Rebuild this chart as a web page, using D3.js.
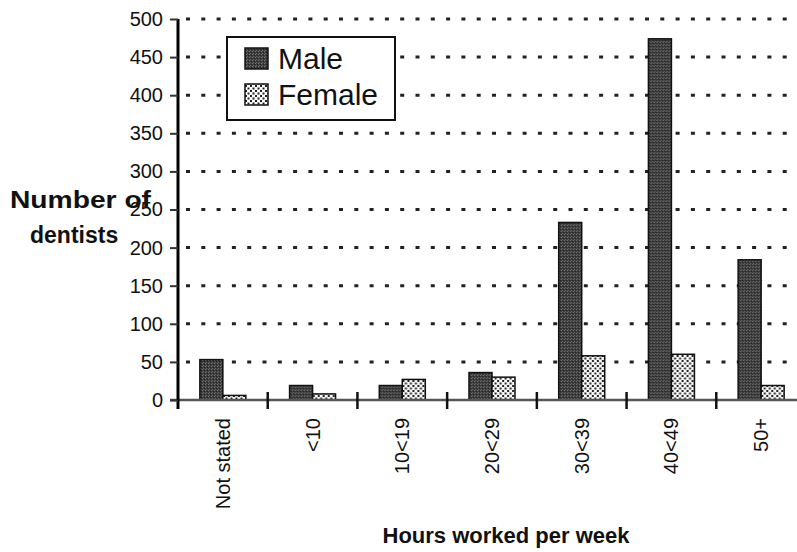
<!DOCTYPE html>
<html>
<head>
<meta charset="utf-8">
<script src="https://cdn.jsdelivr.net/npm/d3@7"></script>
<style>
  html, body { margin: 0; padding: 0; background: #fff; }
  svg { display: block; }
  text { font-family: "Liberation Sans", Arial, Helvetica, sans-serif; fill: #111; }
</style>
</head>
<body>
<svg id="chart" width="797" height="552"></svg>
<script>
const categories = ["Not stated", "<10", "10<19", "20<29", "30<39", "40<49", "50+"];
const seriesNames = ["Male", "Female"];
const maleValues = [53, 19, 19, 36, 233, 474, 184];
const femaleValues = [6, 8, 27, 30, 58, 60, 19];
const yTickValues = [0, 50, 100, 150, 200, 250, 300, 350, 400, 450, 500];

const data = categories.map((c, i) => ({ cat: c, Male: maleValues[i], Female: femaleValues[i] }));

const svg = d3.select("#chart");
const W = 797, H = 552;
const x0 = 178, xEnd = 806, yTop = 19, yBase = 400;

const defs = svg.append("defs");
// male texture
const pm = defs.append("pattern").attr("id", "pMale").attr("patternUnits", "userSpaceOnUse")
  .attr("width", 3).attr("height", 3);
pm.append("rect").attr("width", 3).attr("height", 3).attr("fill", "#3c3c3c");
pm.append("rect").attr("x", 0).attr("y", 0).attr("width", 1).attr("height", 1).attr("fill", "#777");
pm.append("rect").attr("x", 2).attr("y", 1).attr("width", 1).attr("height", 1).attr("fill", "#222");
pm.append("rect").attr("x", 1).attr("y", 2).attr("width", 1).attr("height", 1).attr("fill", "#666");
// female dotted texture
const pf = defs.append("pattern").attr("id", "pFemale").attr("patternUnits", "userSpaceOnUse")
  .attr("width", 5).attr("height", 5);
pf.append("rect").attr("width", 5).attr("height", 5).attr("fill", "#fafafa");
pf.append("rect").attr("x", 0).attr("y", 0).attr("width", 2).attr("height", 2).attr("fill", "#222");
pf.append("rect").attr("x", 2.5).attr("y", 2.5).attr("width", 2).attr("height", 2).attr("fill", "#222");

const x = d3.scaleBand().domain(categories).range([x0, xEnd]).paddingInner(0).paddingOuter(0);
const x1 = d3.scaleBand().domain(seriesNames).range([0, x.bandwidth()]).paddingInner(0).paddingOuter(0.95);
const y = d3.scaleLinear().domain([0, 500]).range([yBase, yTop]);

// dotted gridlines
svg.append("g").selectAll("line")
  .data(yTickValues.filter(v => v > 0))
  .join("line")
  .attr("x1", x0 + 8).attr("x2", W)
  .attr("y1", d => y(d)).attr("y2", d => y(d))
  .attr("stroke", "#222").attr("stroke-width", 3)
  .attr("stroke-dasharray", "4,11.3");

// bars
const fills = { Male: "url(#pMale)", Female: "url(#pFemale)" };
const groups = svg.append("g").selectAll("g")
  .data(data).join("g")
  .attr("transform", d => `translate(${x(d.cat)},0)`);
groups.selectAll("rect")
  .data(d => seriesNames.map(s => ({ s, v: d[s] })))
  .join("rect")
  .attr("x", d => x1(d.s))
  .attr("width", x1.bandwidth())
  .attr("y", d => y(d.v))
  .attr("height", d => y(0) - y(d.v))
  .attr("fill", d => fills[d.s])
  .attr("stroke", "#111")
  .attr("stroke-width", 1.5);

// x baseline
svg.append("line").attr("x1", 170).attr("x2", W).attr("y1", yBase).attr("y2", yBase)
  .attr("stroke", "#555").attr("stroke-width", 2.5);

// category boundary ticks
svg.append("g").selectAll("line")
  .data(categories.slice(1))
  .join("line")
  .attr("x1", d => x(d)).attr("x2", d => x(d))
  .attr("y1", yBase - 8).attr("y2", yBase + 9)
  .attr("stroke", "#111").attr("stroke-width", 2.5);

// y axis via d3
const yAxis = d3.axisLeft(y).tickValues(yTickValues).tickSize(8).tickPadding(7);
const gy = svg.append("g").attr("transform", `translate(${x0},0)`).call(yAxis);
gy.select(".domain").attr("d", `M0,${yTop}V${yBase + 9}`).attr("stroke", "#000").attr("stroke-width", 3);
gy.selectAll(".tick line").attr("stroke", "#333").attr("stroke-width", 2);
gy.selectAll(".tick text").attr("font-size", 20).attr("fill", "#000")
  .attr("font-family", "Liberation Sans, Arial, sans-serif");

// category labels
svg.append("g").selectAll("text")
  .data(categories).join("text")
  .attr("transform", d => `translate(${x(d) + x.bandwidth() / 2},418) rotate(-90)`)
  .attr("text-anchor", "end")
  .attr("dy", "0.35em")
  .attr("font-size", 20)
  .attr("fill", "#000")
  .text(d => d);

// y axis title
svg.append("text").attr("x", 10).attr("y", 208).attr("font-size", 23).attr("font-weight", "bold")
  .attr("textLength", 141).attr("lengthAdjust", "spacingAndGlyphs").text("Number of");
svg.append("text").attr("x", 30).attr("y", 243).attr("font-size", 23).attr("font-weight", "bold")
  .text("dentists");

// x axis title
svg.append("text").attr("x", 506).attr("y", 543).attr("text-anchor", "middle")
  .attr("font-size", 22).attr("font-weight", "bold").text("Hours worked per week");

// legend
const lg = svg.append("g");
lg.append("rect").attr("x", 227).attr("y", 37).attr("width", 168).attr("height", 83)
  .attr("fill", "#fff").attr("stroke", "#111").attr("stroke-width", 2);
seriesNames.forEach((s, i) => {
  const ty = [69, 105][i];
  lg.append("rect").attr("x", 245).attr("y", ty - 21).attr("width", 23).attr("height", 21)
    .attr("fill", fills[s]).attr("stroke", "#111").attr("stroke-width", 1.5);
  lg.append("text").attr("x", 278).attr("y", ty).attr("font-size", 30).attr("fill", "#000").text(s);
});
</script>
</body>
</html>
